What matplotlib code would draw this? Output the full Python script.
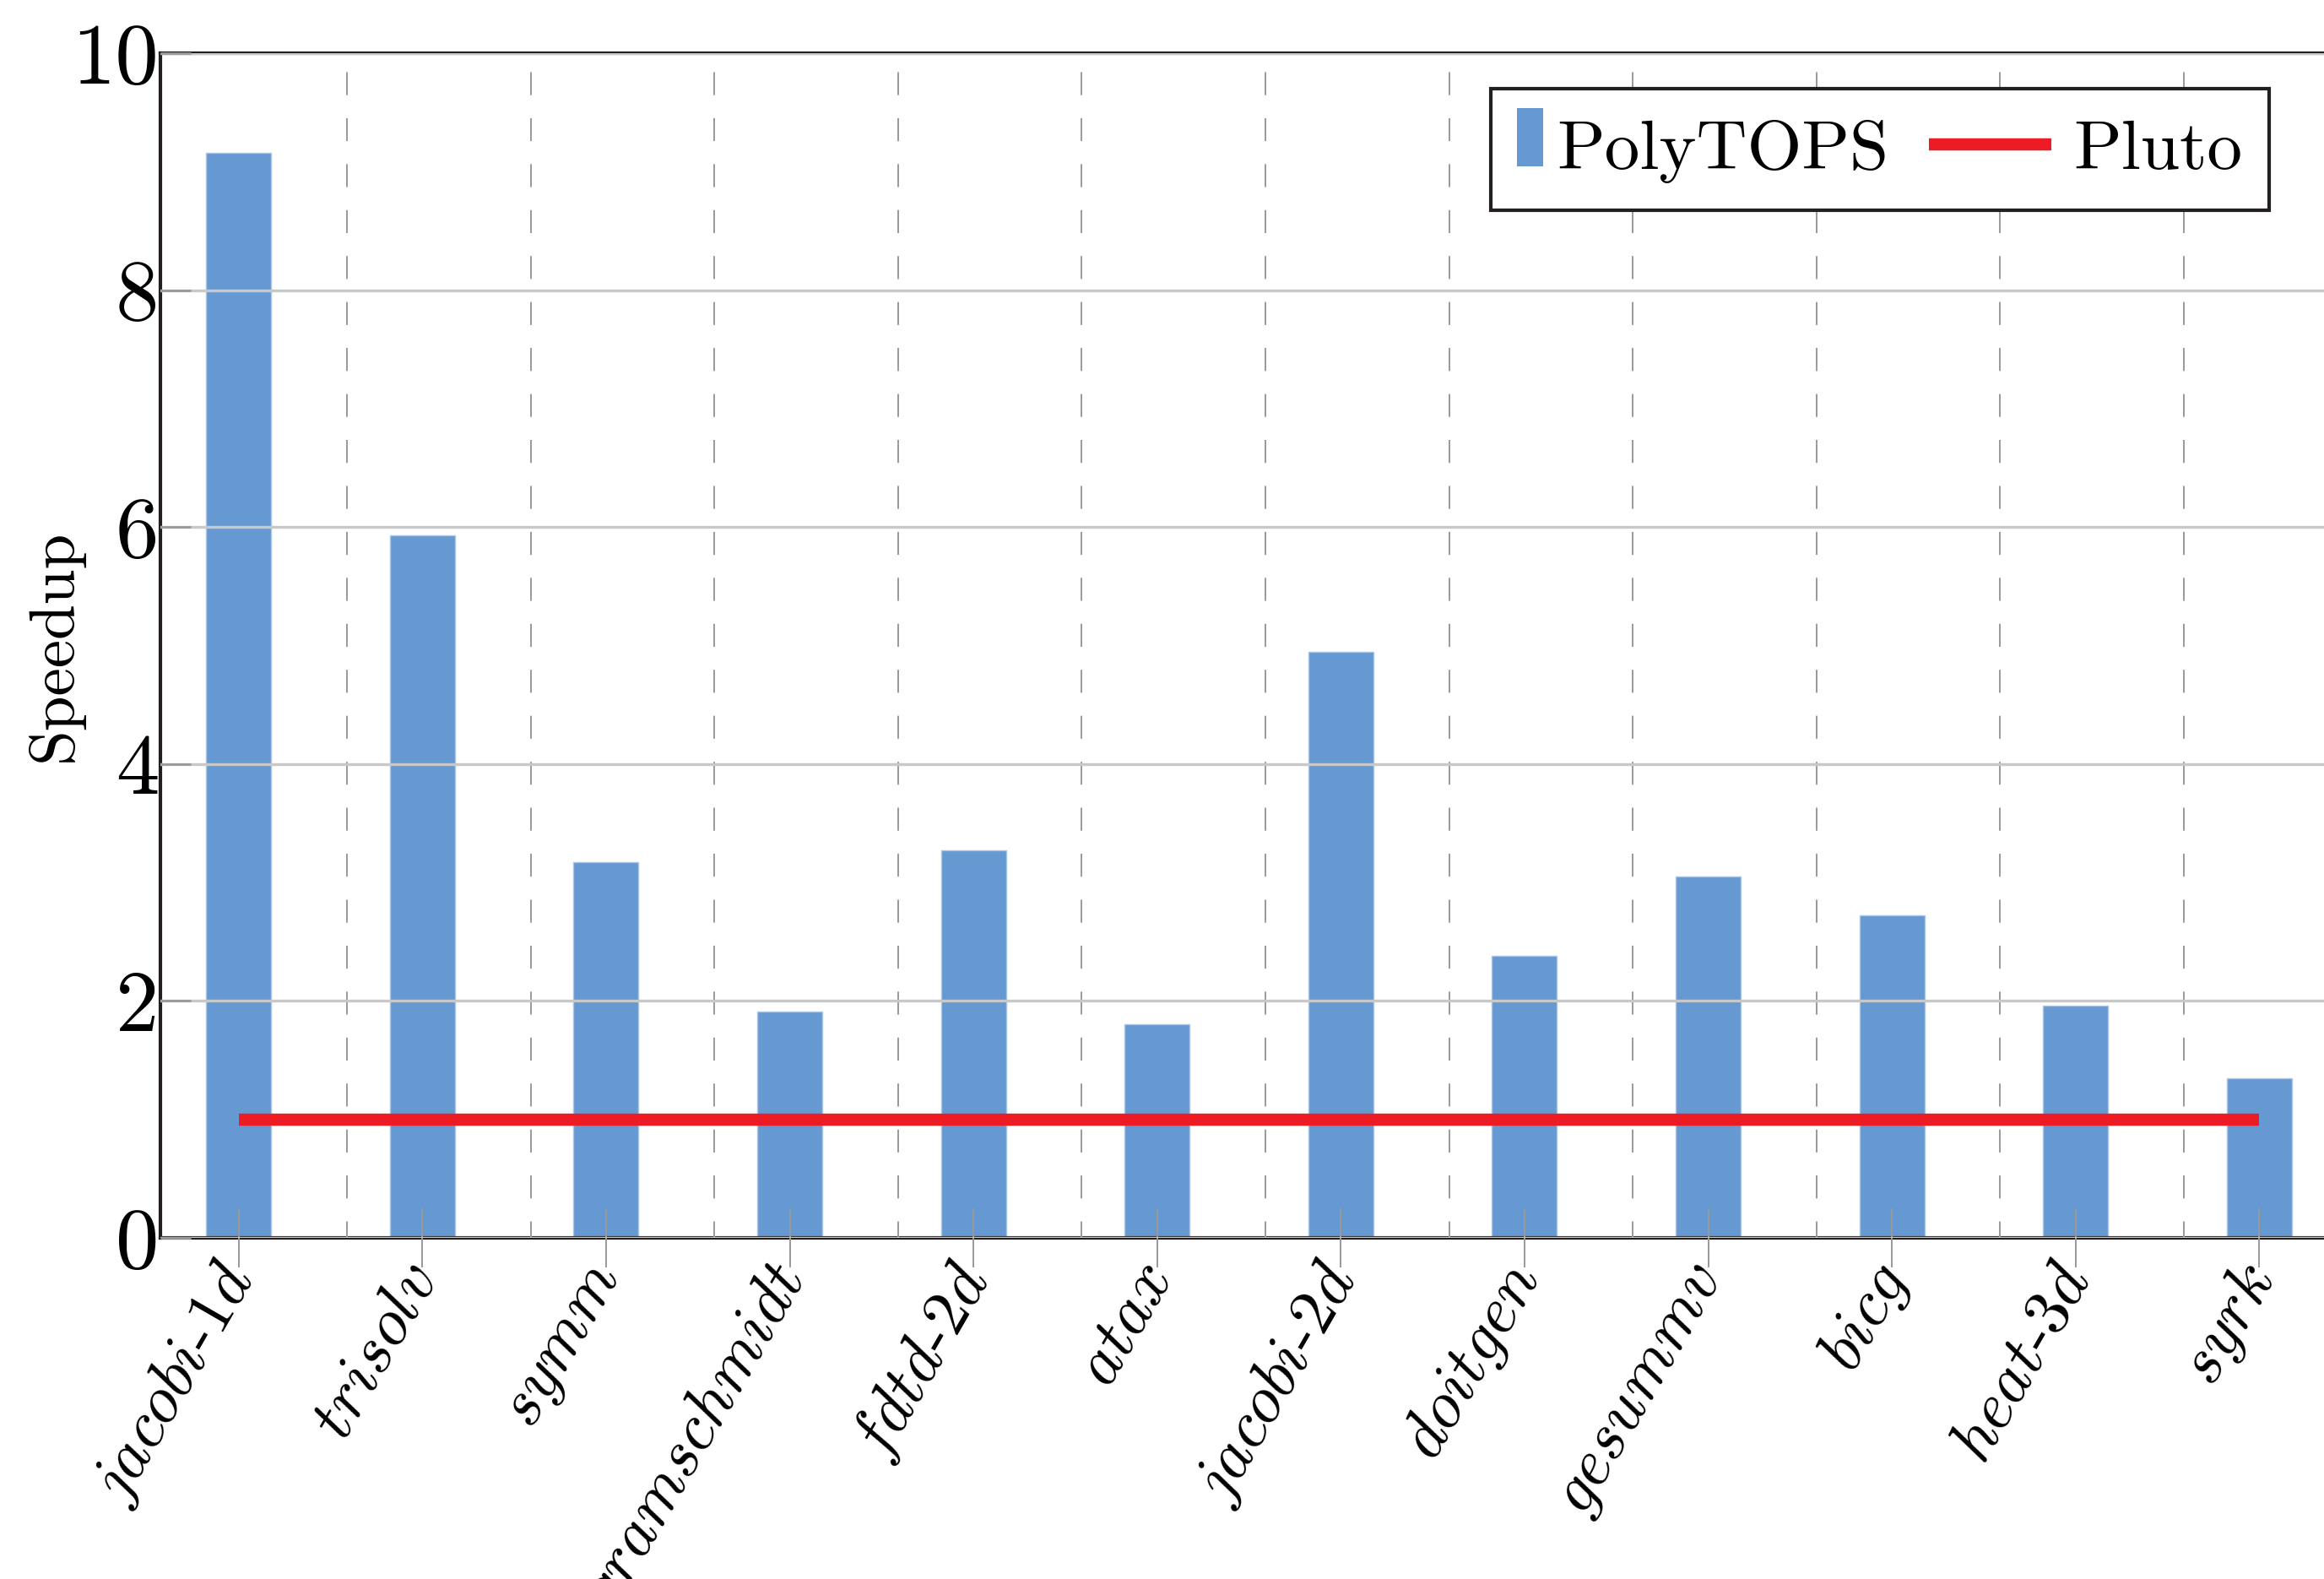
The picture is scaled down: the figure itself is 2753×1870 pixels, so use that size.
import matplotlib
matplotlib.use('Agg')
import matplotlib.pyplot as plt
from matplotlib.patches import Patch, Rectangle
from matplotlib.lines import Line2D
from matplotlib.legend_handler import HandlerBase
from matplotlib.transforms import ScaledTranslation
import numpy as np

plt.rcParams['font.family'] = ['cmr10', 'DejaVu Serif']
plt.rcParams['mathtext.fontset'] = 'cm'
plt.rcParams['axes.formatter.use_mathtext'] = True

# データ
benchmarks = ['jacobi-1d', 'trisolv', 'symm', 'gramschmidt', 'fdtd-2d', 'atax',
              'jacobi-2d', 'doitgen', 'gesummv', 'bicg', 'heat-3d', 'syrk']
polytops = [9.16, 5.93, 3.17, 1.91, 3.27, 1.80, 4.95, 2.38, 3.05, 2.72, 1.96, 1.35]
pluto = [1.0] * 12
yticks = [0, 2, 4, 6, 8, 10]

BAR_COLOR = '#6699D2'
RED = '#ED1C24'


def italic_label(name):
    # 英字は斜体、ハイフンは立体
    return '-'.join('$' + p + '$' for p in name.split('-'))


class BarHandle(HandlerBase):
    def create_artists(self, legend, orig_handle, xdescent, ydescent,
                       width, height, fontsize, trans):
        r = Rectangle((-xdescent, -ydescent + 0.13 * height), width, 1.0 * height,
                      facecolor=orig_handle.get_facecolor(), edgecolor='none',
                      transform=trans)
        return [r]


class LongLine(HandlerBase):
    def create_artists(self, legend, orig_handle, xdescent, ydescent,
                       width, height, fontsize, trans):
        y = -ydescent + height / 2
        ext = 1.5 * fontsize
        ln = Line2D([-xdescent - ext, -xdescent + width - 0.13 * fontsize], [y, y],
                    color=orig_handle.get_color(), lw=orig_handle.get_linewidth(),
                    solid_capstyle='butt', transform=trans)
        return [ln]


fig = plt.figure(figsize=(13.765, 9.35), dpi=200)
ax = fig.add_axes([0.06887, 0.21604, 0.9499, 0.75027])

x = np.arange(len(benchmarks))
ax.bar(x, polytops, width=0.354, color=BAR_COLOR, edgecolor='#A9C6E8',
       linewidth=0.5, zorder=1)
ax.plot(x, pluto, color=RED, lw=5.2, solid_capstyle='butt', zorder=3)

ax.set_xlim(-0.428, 11.428)
ax.set_ylim(0, 10)
ax.set_axisbelow(False)

ax.set_yticks(yticks)
ax.set_yticklabels([str(v) for v in yticks], fontsize=37)
ax.yaxis.grid(True, color='#C8C8C8', lw=1.2)
ax.tick_params(axis='y', direction='in', length=13, width=1.0, color='#999999',
               left=True, right=True, pad=0.5)

ax.set_xticks(x)
ax.set_xticklabels([italic_label(b) for b in benchmarks], fontsize=28,
                   rotation=60, ha='right', va='center', rotation_mode='anchor')
ax.set_xticks(x + 0.59, minor=True)
ax.xaxis.grid(True, which='minor', color='#999999', lw=0.7, ls=(4, (14, 14)))
ax.tick_params(axis='x', which='major', direction='inout', length=25, width=0.7,
               color='#999999', pad=1)
ax.tick_params(axis='x', which='minor', length=0)
for lab in ax.get_xticklabels():
    lab.set_transform(lab.get_transform() + ScaledTranslation(1 / 72, 0, fig.dpi_scale_trans))

for s in ax.spines.values():
    s.set_linewidth(1.5)
    s.set_color('#231F20')

ax.set_ylabel('Speedup', fontsize=27)
ax.yaxis.set_label_coords(-0.0347, 0.5)

h_bar = Patch(facecolor=BAR_COLOR, label='PolyTOPS')
h_line = Line2D([], [], color=RED, lw=5.2, label='Pluto')
leg = ax.legend(handles=[h_bar, h_line], ncol=2, fontsize=30,
                loc='upper right', bbox_to_anchor=(0.9554, 0.9701), borderaxespad=0,
                handler_map={Patch: BarHandle(), Line2D: LongLine()},
                handlelength=0.37, handleheight=0.9, handletextpad=0.19,
                columnspacing=2.07, borderpad=0.38, fancybox=False, framealpha=1)
leg.get_frame().set_edgecolor('#231F20')
leg.get_frame().set_linewidth(1.5)

fig.savefig('out.png', dpi=200)
